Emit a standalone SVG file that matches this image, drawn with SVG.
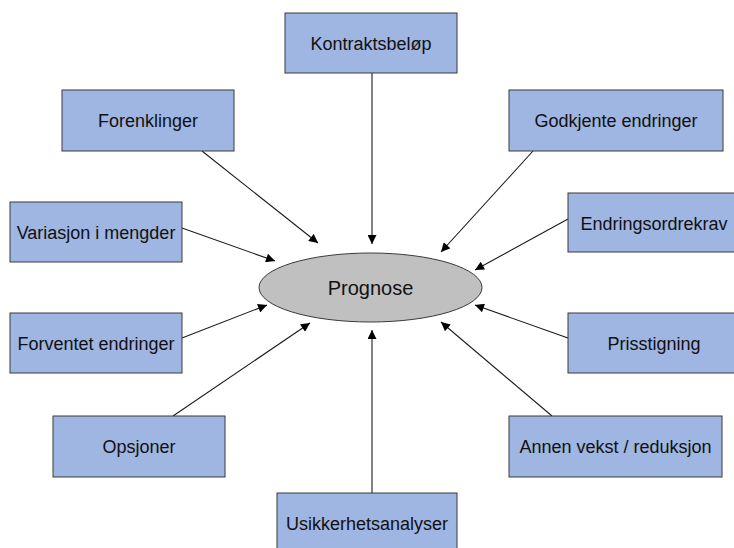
<svg xmlns="http://www.w3.org/2000/svg" width="734" height="548" viewBox="0 0 734 548">
  <style>
    .box { fill: #9fb5e2; stroke: #3a3a3a; stroke-width: 1; }
    .lbl { font-family: "Liberation Sans", Arial, sans-serif; font-size: 18px; fill: #111; text-anchor: middle; }
    .conn { stroke: #1a1a1a; stroke-width: 1.1; fill: none; marker-end: url(#arrow); }
  </style>
  <defs>
    <marker id="arrow" viewBox="0 0 10 10" refX="10" refY="5" markerWidth="10" markerHeight="9" markerUnits="userSpaceOnUse" orient="auto">
      <path d="M0,0 L10,5 L0,10 z" fill="#000"/>
    </marker>
  </defs>
  <rect width="734" height="548" fill="#fff"/>

  <g id="connectors">
    <line class="conn" x1="372" y1="73" x2="372" y2="244"/>
    <line class="conn" x1="202" y1="151" x2="318" y2="243"/>
    <line class="conn" x1="533" y1="151" x2="441" y2="252"/>
    <line class="conn" x1="182" y1="228" x2="275" y2="261"/>
    <line class="conn" x1="568" y1="219" x2="475" y2="270"/>
    <line class="conn" x1="182" y1="338" x2="267" y2="305"/>
    <line class="conn" x1="568" y1="338" x2="475" y2="305"/>
    <line class="conn" x1="173" y1="416" x2="310" y2="323"/>
    <line class="conn" x1="552" y1="416" x2="441" y2="322"/>
    <line class="conn" x1="372" y1="493" x2="372" y2="330"/>
  </g>

  <g id="prognose">
    <ellipse cx="370.5" cy="287.5" rx="111.5" ry="34.5" fill="#c0c0c0" stroke="#3a3a3a" stroke-width="1"/>
    <text x="370.5" y="295" font-family="Liberation Sans, Arial, sans-serif" font-size="20" fill="#111" text-anchor="middle">Prognose</text>
  </g>

  <g id="kontraktsbelop">
    <rect class="box" x="285" y="13" width="172" height="60"/>
    <text class="lbl" x="371" y="49.5">Kontraktsbeløp</text>
  </g>
  <g id="forenklinger">
    <rect class="box" x="62" y="90" width="172" height="61"/>
    <text class="lbl" x="148" y="126.5">Forenklinger</text>
  </g>
  <g id="godkjente-endringer">
    <rect class="box" x="509" y="90" width="214" height="61"/>
    <text class="lbl" x="616" y="126.5">Godkjente endringer</text>
  </g>
  <g id="variasjon-i-mengder">
    <rect class="box" x="10" y="202" width="172" height="60"/>
    <text class="lbl" x="96" y="238.5">Variasjon i mengder</text>
  </g>
  <g id="endringsordrekrav">
    <rect class="box" x="568" y="193" width="172" height="59"/>
    <text class="lbl" x="654" y="229.5">Endringsordrekrav</text>
  </g>
  <g id="forventet-endringer">
    <rect class="box" x="10" y="313" width="172" height="60"/>
    <text class="lbl" x="96" y="349.5">Forventet endringer</text>
  </g>
  <g id="prisstigning">
    <rect class="box" x="568" y="313" width="172" height="60"/>
    <text class="lbl" x="654" y="349.5">Prisstigning</text>
  </g>
  <g id="opsjoner">
    <rect class="box" x="53" y="416" width="172" height="61"/>
    <text class="lbl" x="139" y="452.5">Opsjoner</text>
  </g>
  <g id="annen-vekst-reduksjon">
    <rect class="box" x="509" y="416" width="213" height="61"/>
    <text class="lbl" x="615.5" y="452.5">Annen vekst / reduksjon</text>
  </g>
  <g id="usikkerhetsanalyser">
    <rect class="box" x="277" y="493" width="180" height="60"/>
    <text class="lbl" x="367" y="529.5">Usikkerhetsanalyser</text>
  </g>
</svg>
